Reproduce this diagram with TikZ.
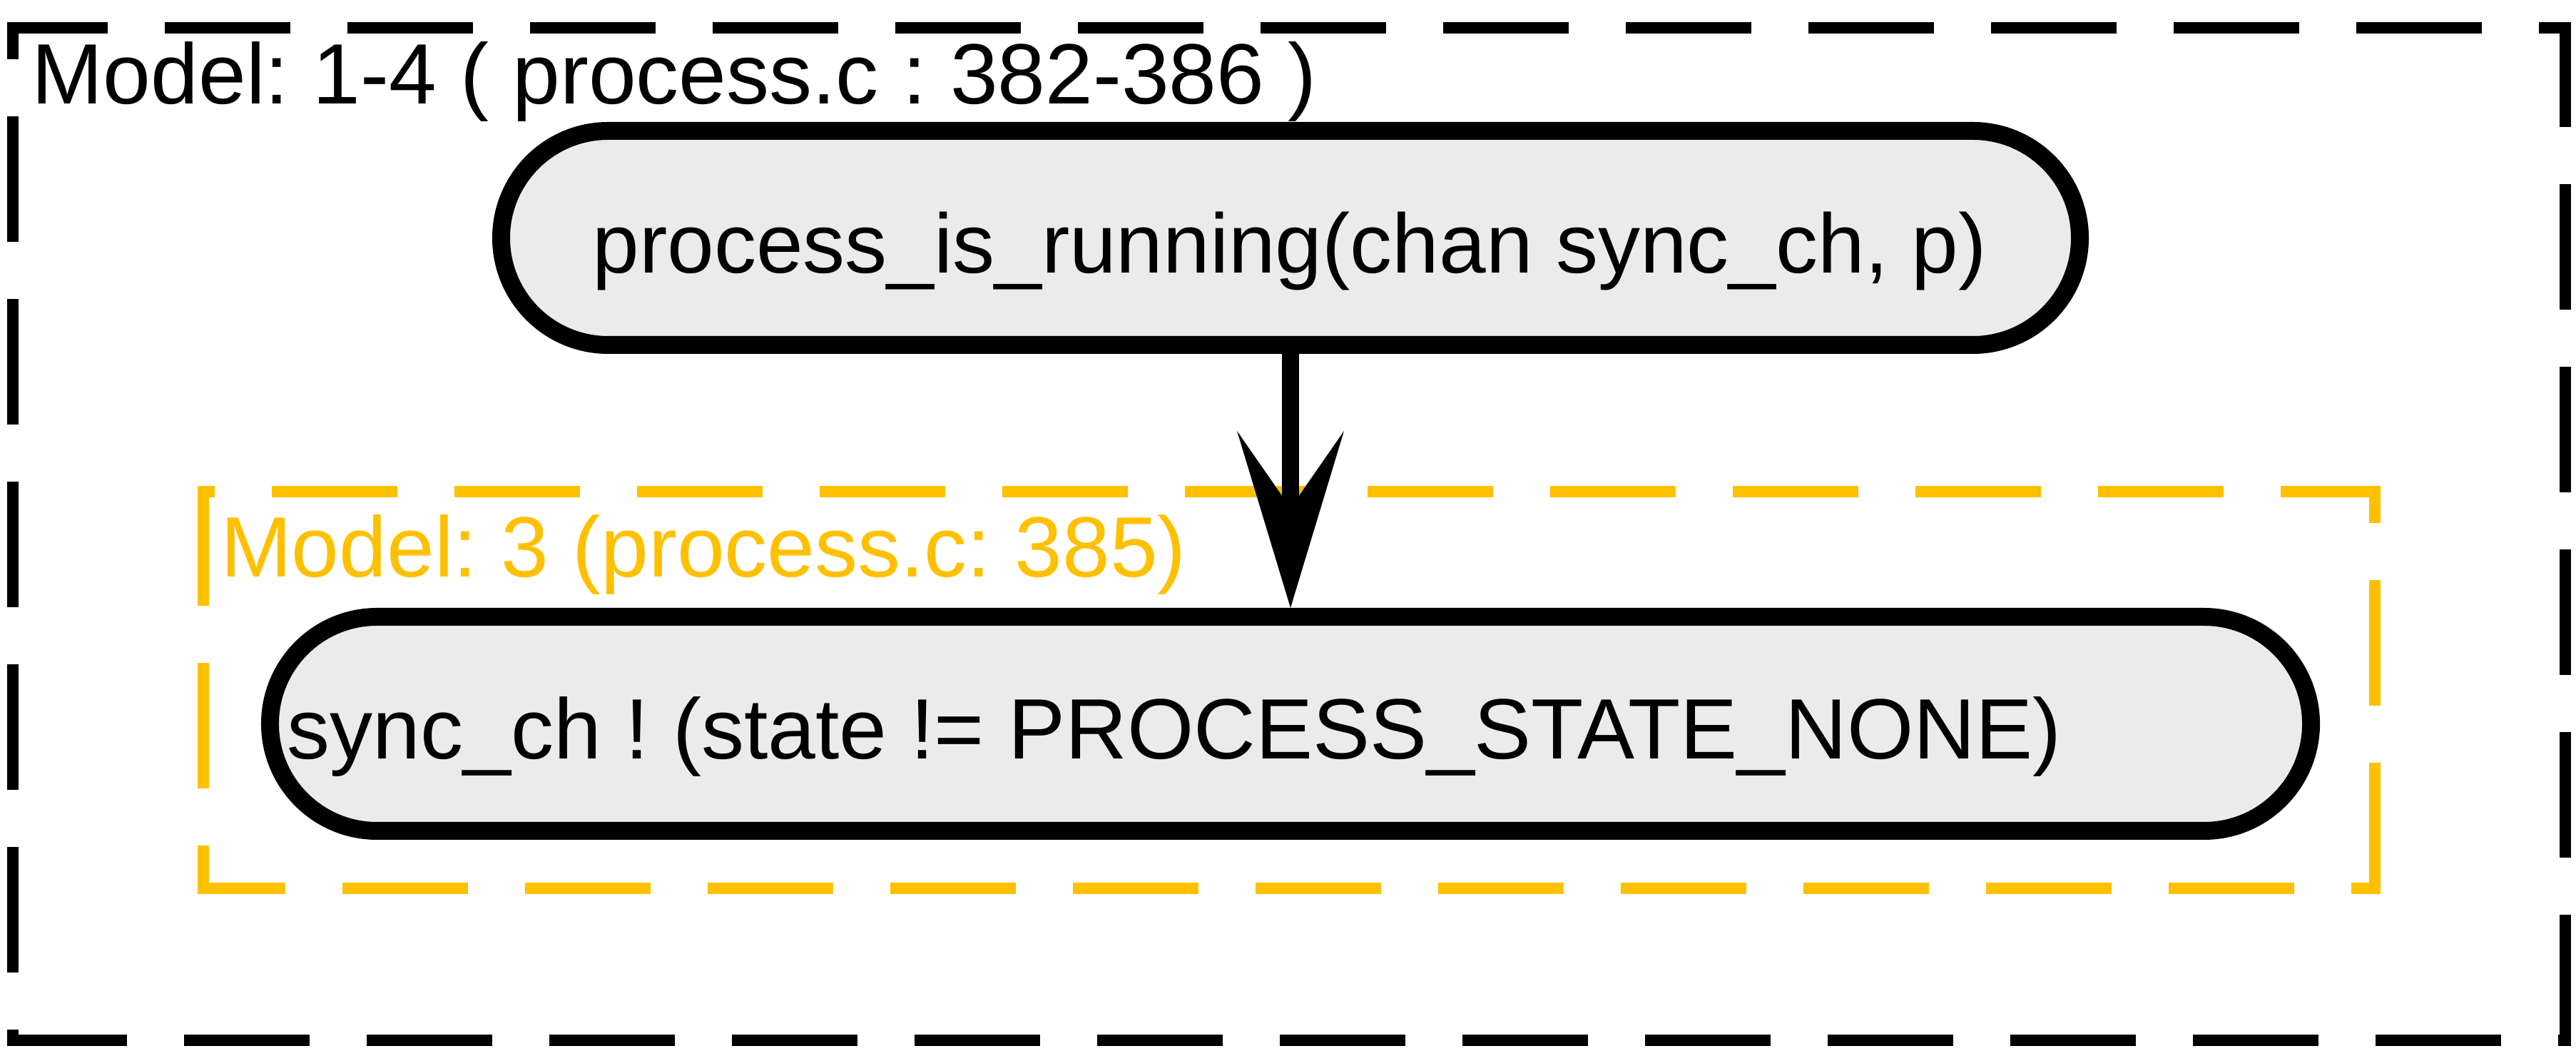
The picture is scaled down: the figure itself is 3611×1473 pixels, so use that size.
\documentclass[tikz,border=0pt]{standalone}
\usepackage{fontspec}
\setmainfont{Liberation Sans}
\usetikzlibrary{arrows.meta}
\definecolor{nodefill}{RGB}{235,235,235}
\definecolor{clusteryellow}{RGB}{255,192,0}
\tikzset{
  outerdash/.style={draw=black, line width=3.2pt, dash pattern=on 35.2pt off 16pt},
  yellowdash/.style={draw=clusteryellow, line width=3.2pt, dash pattern=on 35.2pt off 16pt},
  stmt/.style={draw=black, fill=nodefill, line width=5pt, rounded corners=30pt,
    minimum height=60pt, inner sep=0pt, text height=19.8pt, text depth=0pt,
    font=\fontsize{24pt}{28pt}\selectfont, anchor=center},
  clabel/.style={anchor=base west, inner sep=0pt, font=\fontsize{24pt}{28pt}\selectfont},
  flow/.style={draw=black, line width=4.8pt,
    -{Stealth[length=49.6pt, width=30pt, inset=21.6pt, line width=0pt]}}
}
\begin{document}
\frenchspacing
\begin{tikzpicture}[x=0.2pt, y=-0.2pt]
\useasboundingbox (0,0) rectangle (3611,1473);
% outer cluster box
\draw[outerdash, dash phase=7pt] (10,39.5) -- (3604,39.5);
\draw[outerdash, dash phase=5.9pt] (3596,31.5) -- (3596,1466);
\draw[outerdash, dash phase=1.6pt] (10,1458) -- (3604,1458);
\draw[outerdash, dash phase=24.9pt] (18,31.5) -- (18,1466);
% inner cluster box
\draw[yellowdash, dash phase=1.6pt] (285,681) -- (285,1253);
\draw[yellowdash, dash phase=30.4pt] (277,689) -- (3337,689);
\draw[yellowdash, dash phase=24.8pt] (3329,681) -- (3329,1253);
\draw[yellowdash, dash phase=10.6pt] (277,1245) -- (3337,1245);
% labels
\node[clabel] (outerlabel) at (44,146) {Model: 1-4 ( process.c : 382-386 )};
\node[clabel, text=clusteryellow] (innerlabel) at (308,809) {Model: 3 (process.c: 385)};
% statements
\node[stmt, font=\fontsize{23.6pt}{28pt}\selectfont] (top) at (1809,333.5)
  {\makebox[442.6pt][l]{\hspace{25.6pt}process\_is\_running(chan sync\_ch, p)}};
\node[stmt] (bot) at (1809,1014.5)
  {\makebox[572.2pt][l]{\hspace{4.9pt}sync\_ch ! (state != PROCESS\_STATE\_NONE)}};
% connector
\draw[flow] (top.south) -- (bot.north);
\end{tikzpicture}
\end{document}
